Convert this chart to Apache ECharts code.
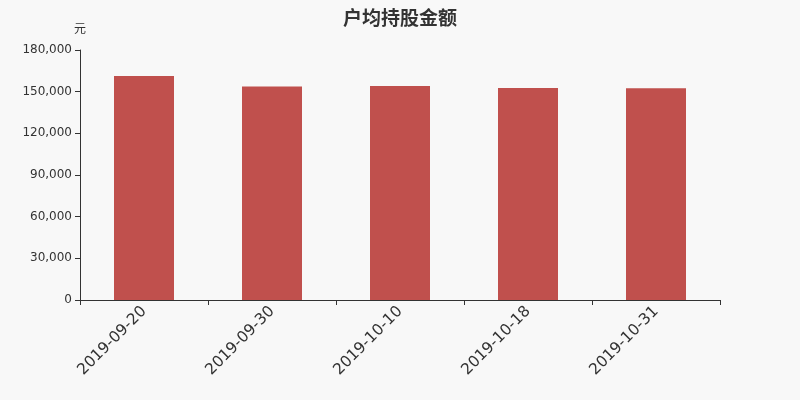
<!DOCTYPE html>
<html>
<head>
<meta charset="utf-8">
<script src="https://cdn.jsdelivr.net/npm/echarts@6/dist/echarts.min.js"></script>
<style>
  html, body { margin: 0; padding: 0; background: #f8f8f8; }
  #chart { width: 800px; height: 400px; }
</style>
</head>
<body>
<div id="chart"></div>
<script>
// 报告期
const dates = ["2019-09-20", "2019-09-30", "2019-10-10", "2019-10-18", "2019-10-31"];
// 户均持股金额（元）
const amounts = [161300, 153800, 154100, 152600, 152400];

const chart = echarts.init(document.getElementById("chart"));
chart.setOption({
  backgroundColor: "#f8f8f8",
  textStyle: { fontFamily: "DejaVu Sans, Noto Sans CJK SC, sans-serif" },
  title: {
    text: "户均持股金额",
    left: "center",
    top: 3,
    textStyle: { fontSize: 19, fontWeight: "bold", color: "#333", fontFamily: "Noto Sans CJK SC, sans-serif" }
  },
  grid: { left: 80, right: 80, top: 50, bottom: 100 },
  xAxis: {
    type: "category",
    data: dates,
    axisLine: { lineStyle: { color: "#333" } },
    axisTick: { show: true, length: 5, lineStyle: { color: "#333" } },
    axisLabel: { rotate: 45, fontSize: 15.5, color: "#333", margin: 9, interval: 0 }
  },
  yAxis: {
    type: "value",
    name: "元",
    nameGap: 16,
    nameTextStyle: { color: "#333", fontSize: 12, align: "center", fontFamily: "Noto Sans CJK SC, sans-serif" },
    min: 0,
    max: 180000,
    interval: 30000,
    axisLine: { show: true, lineStyle: { color: "#333" } },
    axisTick: { show: true, length: 5, lineStyle: { color: "#333" } },
    splitLine: { show: false },
    axisLabel: {
      color: "#333",
      fontSize: 12,
      margin: 8,
      formatter: (v) => v.toLocaleString("en-US")
    }
  },
  series: [{
    type: "bar",
    data: amounts,
    barWidth: 60,
    itemStyle: { color: "#c0504d" }
  }]
});
</script>
</body>
</html>
